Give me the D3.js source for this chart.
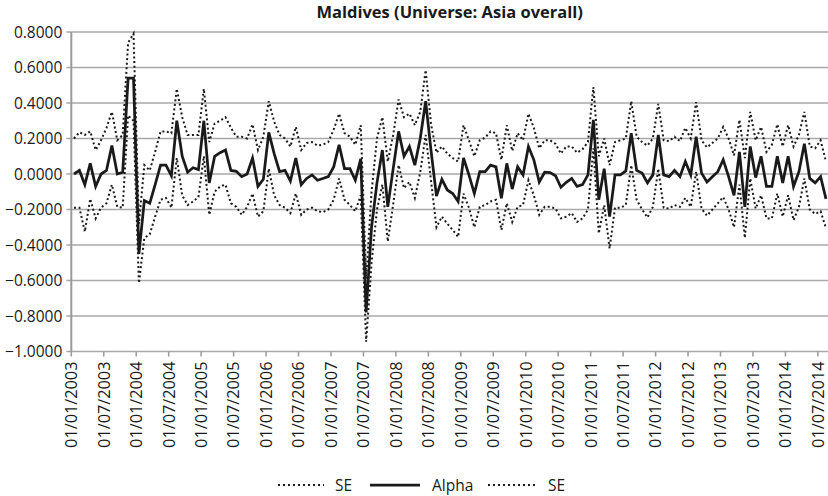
<!DOCTYPE html>
<html>
<head>
<meta charset="utf-8">
<script src="https://cdn.jsdelivr.net/npm/d3@7"></script>
<style>
  body { margin: 0; background: #fff; }
  text { font-family: "Open Sans", sans-serif; fill: #1a1a1a; }
</style>
</head>
<body>
<script>
// monthly values, Jan 2003 .. Aug 2014 (140 months)
var alpha = [
  0.00, 0.02, -0.06, 0.06, -0.07, 0.00, 0.02, 0.16, 0.00, 0.01,
  0.54, 0.54, -0.45, -0.15, -0.165, -0.06, 0.05, 0.05, -0.01, 0.30,
  0.10, 0.01, 0.035, 0.025, 0.30, -0.05, 0.10, 0.12, 0.135, 0.02,
  0.015, -0.015, 0.00, 0.09, -0.07, -0.03, 0.235, 0.115, 0.013, 0.02,
  -0.04, 0.09, -0.06, -0.025, -0.005, -0.035, -0.025, -0.015, 0.04, 0.165,
  0.03, 0.03, -0.035, 0.085, -0.78, -0.30, -0.05, 0.135, -0.185, 0.03,
  0.24, 0.10, 0.155, 0.05, 0.20, 0.41, 0.13, -0.125, -0.03, -0.09,
  -0.11, -0.155, 0.09, -0.005, -0.11, 0.013, 0.013, 0.05, 0.04, -0.137,
  0.06, -0.085, 0.04, -0.005, 0.155, 0.08, -0.045, 0.01, 0.008, -0.01,
  -0.075, -0.047, -0.025, -0.07, -0.06, -0.005, 0.305, -0.145, 0.03, -0.24,
  -0.005, -0.005, 0.017, 0.23, 0.02, 0.005, -0.05, -0.005, 0.22, -0.005,
  -0.015, 0.02, -0.015, 0.07, -0.005, 0.21, 0.005, -0.045, -0.015, 0.013,
  0.08, -0.015, -0.12, 0.125, -0.185, 0.155, -0.02, 0.10, -0.07, -0.07,
  0.10, -0.05, 0.10, -0.07, 0.013, 0.17, -0.025, -0.05, -0.015, -0.14
];
var seUpper = [
  0.20, 0.235, 0.22, 0.24, 0.135, 0.19, 0.26, 0.35, 0.19, 0.22,
  0.74, 0.79, -0.28, 0.05, 0.02, 0.125, 0.24, 0.24, 0.23, 0.48,
  0.32, 0.22, 0.22, 0.22, 0.48, 0.18, 0.285, 0.30, 0.32, 0.26,
  0.21, 0.21, 0.20, 0.28, 0.135, 0.21, 0.41, 0.295, 0.22, 0.20,
  0.155, 0.265, 0.135, 0.175, 0.18, 0.16, 0.165, 0.18, 0.25, 0.34,
  0.23, 0.21, 0.165, 0.275, -0.59, -0.10, 0.20, 0.32, 0.07, 0.22,
  0.42, 0.32, 0.34, 0.275, 0.35, 0.585, 0.28, 0.12, 0.155, 0.115,
  0.09, 0.07, 0.275, 0.19, 0.10, 0.19, 0.205, 0.24, 0.23, 0.08,
  0.275, 0.13, 0.23, 0.19, 0.34, 0.26, 0.145, 0.19, 0.19, 0.17,
  0.115, 0.155, 0.155, 0.12, 0.14, 0.18, 0.49, 0.10, 0.20, 0.05,
  0.18, 0.19, 0.20, 0.41, 0.21, 0.18, 0.16, 0.20, 0.395, 0.19,
  0.185, 0.21, 0.185, 0.26, 0.20, 0.405, 0.19, 0.15, 0.175, 0.20,
  0.265, 0.20, 0.105, 0.305, 0.09, 0.35, 0.19, 0.265, 0.125, 0.165,
  0.28, 0.155, 0.275, 0.155, 0.22, 0.35, 0.155, 0.145, 0.19, 0.07
];
var seLower = [
  -0.19, -0.19, -0.325, -0.14, -0.25, -0.19, -0.165, -0.06, -0.185, -0.19,
  0.33, 0.30, -0.615, -0.36, -0.34, -0.24, -0.145, -0.135, -0.19, 0.09,
  -0.12, -0.175, -0.155, -0.13, 0.10, -0.23, -0.10, -0.07, -0.06, -0.165,
  -0.185, -0.23, -0.185, -0.11, -0.24, -0.21, 0.03, -0.12, -0.175, -0.19,
  -0.22, -0.11, -0.23, -0.20, -0.19, -0.21, -0.215, -0.20, -0.145, -0.025,
  -0.145, -0.175, -0.21, -0.12, -0.945, -0.50, -0.20, -0.06, -0.38, -0.17,
  0.05, -0.08, -0.045, -0.135, 0.01, 0.22, -0.04, -0.30, -0.24, -0.28,
  -0.315, -0.355, -0.11, -0.19, -0.30, -0.185, -0.175, -0.155, -0.145, -0.315,
  -0.165, -0.27, -0.185, -0.175, -0.035, -0.12, -0.23, -0.185, -0.185, -0.195,
  -0.25, -0.24, -0.22, -0.27, -0.25, -0.20, 0.145, -0.335, -0.175, -0.42,
  -0.19, -0.19, -0.175, 0.05, -0.145, -0.20, -0.245, -0.185, 0.03, -0.19,
  -0.195, -0.175, -0.185, -0.135, -0.185, 0.013, -0.195, -0.235, -0.20, -0.165,
  -0.13, -0.20, -0.30, -0.06, -0.36, -0.025, -0.195, -0.12, -0.25, -0.25,
  -0.11, -0.24, -0.12, -0.26, -0.185, -0.025, -0.20, -0.225, -0.21, -0.305
];
var tickLabels = [
  '01/01/2003', '01/07/2003', '01/01/2004', '01/07/2004', '01/01/2005', '01/07/2005',
  '01/01/2006', '01/07/2006', '01/01/2007', '01/07/2007', '01/01/2008', '01/07/2008',
  '01/01/2009', '01/07/2009', '01/01/2010', '01/07/2010', '01/01/2011', '01/07/2011',
  '01/01/2012', '01/07/2012', '01/01/2013', '01/07/2013', '01/01/2014', '01/07/2014'
];
var yTicks = [-1.0, -0.8, -0.6, -0.4, -0.2, 0.0, 0.2, 0.4, 0.6, 0.8];

var W = 828, H = 496;
var plotLeft = 71.3, plotTop = 32, plotBottom = 351.5;
var monthW = 5.41;

var svg = d3.select('body').append('svg').attr('width', W).attr('height', H);

var x = d3.scaleLinear().domain([0, alpha.length]).range([plotLeft, plotLeft + alpha.length * monthW]);
var y = d3.scaleLinear().domain([-1, 0.8]).range([plotBottom, plotTop]);

// gridlines
svg.append('g').selectAll('line')
  .data(yTicks)
  .enter()
  .append('line')
  .attr('x1', plotLeft - 5).attr('x2', W)
  .attr('y1', d => y(d)).attr('y2', d => y(d))
  .attr('stroke', '#a9a9a9')
  .attr('stroke-width', 1.5);

// y labels
svg.append('g').selectAll('text')
  .data(yTicks)
  .enter()
  .append('text')
  .attr('x', plotLeft - 9)
  .attr('y', d => y(d))
  .attr('dy', '0.36em')
  .attr('text-anchor', 'end')
  .style('font-size', '15.5px')
  .text(d => d3.format('.4f')(d));

// left axis line
svg.append('line')
  .attr('x1', plotLeft).attr('x2', plotLeft)
  .attr('y1', plotTop).attr('y2', plotBottom)
  .attr('stroke', '#9a9a9a').attr('stroke-width', 2);

// x ticks and labels (every 6 months)
var xt = svg.append('g').selectAll('g')
  .data(tickLabels)
  .enter()
  .append('g')
  .attr('transform', (d, i) => 'translate(' + x(i * 6) + ',' + plotBottom + ')');
xt.append('line')
  .attr('y1', 0).attr('y2', 5)
  .attr('stroke', '#9a9a9a').attr('stroke-width', 1.5);
xt.append('text')
  .attr('transform', 'translate(0,10) rotate(-90)')
  .attr('dy', '0.36em')
  .attr('text-anchor', 'end')
  .style('font-size', '16.3px')
  .text(d => d);

// series
var line = d3.line()
  .x((d, i) => x(i + 0.5))
  .y(d => y(d));

svg.append('path').datum(seUpper)
  .attr('d', line).attr('fill', 'none')
  .attr('stroke', '#1a1a1a').attr('stroke-width', 2)
  .attr('stroke-dasharray', '2 2.6');
svg.append('path').datum(seLower)
  .attr('d', line).attr('fill', 'none')
  .attr('stroke', '#1a1a1a').attr('stroke-width', 2)
  .attr('stroke-dasharray', '2 2.6');
svg.append('path').datum(alpha)
  .attr('d', line).attr('fill', 'none')
  .attr('stroke', '#1a1a1a').attr('stroke-width', 2.75)
  .attr('stroke-linejoin', 'miter');

// title
svg.append('text')
  .attr('x', (plotLeft + W) / 2).attr('y', 18)
  .attr('text-anchor', 'middle')
  .style('font-size', '16.5px').style('font-weight', 'bold')
  .text('Maldives (Universe: Asia overall)');

// legend
var legend = [
  {name: 'SE', x0: 278, x1: 324, tx: 335, dash: '2 3', w: 2},
  {name: 'Alpha', x0: 370, x1: 420, tx: 432, dash: null, w: 2.75},
  {name: 'SE', x0: 488, x1: 535, tx: 548, dash: '2 3', w: 2}
];
var lg = svg.append('g').selectAll('g').data(legend).enter().append('g');
lg.append('line')
  .attr('x1', d => d.x0).attr('x2', d => d.x1)
  .attr('y1', 485).attr('y2', 485)
  .attr('stroke', '#1a1a1a')
  .attr('stroke-width', d => d.w)
  .attr('stroke-dasharray', d => d.dash);
lg.append('text')
  .attr('x', d => d.tx).attr('y', 485)
  .attr('dy', '0.36em')
  .style('font-size', '15.5px')
  .text(d => d.name);
</script>
</body>
</html>
